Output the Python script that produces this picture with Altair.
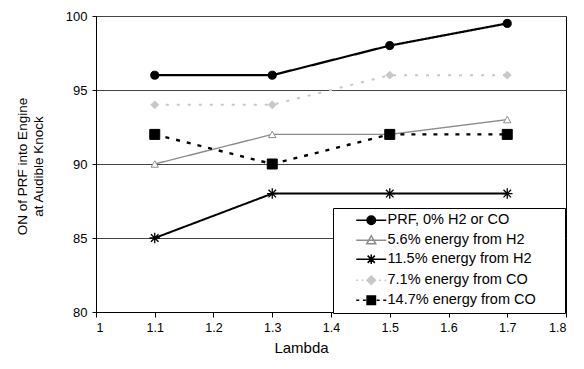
import altair as alt
import pandas as pd

# ---- data ----
lam = [1.1, 1.3, 1.5, 1.7]
series = [
    "PRF, 0% H2 or CO",
    "5.6% energy from H2",
    "11.5% energy from H2",
    "7.1% energy from CO",
    "14.7% energy from CO",
]
prf = [96, 96, 98, 99.5]
h2_56 = [90, 92, 92, 93]
h2_115 = [85, 88, 88, 88]
co_71 = [94, 94, 96, 96]
co_147 = [92, 90, 92, 92]
x_ticks = [1.0, 1.1, 1.2, 1.3, 1.4, 1.5, 1.6, 1.7, 1.8]
y_ticks = [80, 85, 90, 95, 100]

values = [prf, h2_56, h2_115, co_71, co_147]
rows = []
for name, vals in zip(series, values):
    for x, v in zip(lam, vals):
        rows.append({"series": name, "lambda": x, "on": v})
df = pd.DataFrame(rows)

FONT = "Liberation Sans"
ASTER = "M-1,0L1,0M0,-1L0,1M-0.72,-0.72L0.72,0.72M-0.72,0.72L0.72,-0.72"

styles = [
    dict(color="#000000", width=2.2, dash=[1, 0], shape="circle", fill="#000000", stroke="#000000", size=65, sw=1),
    dict(color="#8c8c8c", width=1.4, dash=[1, 0], shape="triangle-up", fill="white", stroke="#8c8c8c", size=55, sw=1),
    dict(color="#000000", width=2.0, dash=[1, 0], shape=ASTER, fill="transparent", stroke="#000000", size=110, sw=1.3),
    dict(color="#c8c8c8", width=2.0, dash=[3, 8], shape="diamond", fill="#c8c8c8", stroke="#c8c8c8", size=60, sw=1),
    dict(color="#000000", width=2.4, dash=[4, 7], shape="square", fill="#000000", stroke="#000000", size=100, sw=1),
]

legend_paths = [
    "M-2.5,0L2.5,0M-0.7,0A0.7,0.7,0,1,0,0.7,0A0.7,0.7,0,1,0,-0.7,0Z",
    "M-2.5,0L2.5,0M0,-0.75L0.75,0.6L-0.75,0.6Z",
    "M-2.5,0L2.5,0M-0.8,0L0.8,0M0,-0.8L0,0.8M-0.6,-0.6L0.6,0.6M-0.6,0.6L0.6,-0.6",
    "M-2.5,0L-2.2,0M-1.6,0L-1.3,0M1.3,0L1.6,0M2.2,0L2.5,0M0,-0.7L0.7,0L0,0.7L-0.7,0Z",
    "M-2.5,0L-2.0,0M-1.4,0L-0.9,0M0.9,0L1.4,0M2.0,0L2.5,0M-0.7,-0.7L0.7,-0.7L0.7,0.7L-0.7,0.7Z",
]

x_enc = alt.X(
    "lambda:Q",
    scale=alt.Scale(domain=[1.0, 1.8], nice=False, zero=False),
    axis=alt.Axis(
        values=x_ticks, format=".1~f", grid=False, title="Lambda",
        titleFontSize=15, titleFontWeight="normal", titleX=205, titleY=40,
        titleBaseline="alphabetic", titleAnchor="start", titleAlign="center",
        labelFontSize=12.5, labelPadding=4, tickSize=5,
    ),
)
y_enc = alt.Y(
    "on:Q",
    scale=alt.Scale(domain=[80, 100], nice=False, zero=False),
    axis=alt.Axis(
        values=y_ticks, grid=True, gridColor="#444444", gridWidth=1,
        title=["ON of PRF into Engine", "at Audible Knock"],
        titleFontSize=13.5, titleFontWeight="normal", titleX=-67, titleY=150,
        titleLineHeight=16, labelFontSize=13, labelPadding=5, tickSize=4,
    ),
)

layers = []
for name, st in zip(series, styles):
    sub = df[df["series"] == name]
    line = alt.Chart(sub).mark_line(
        color=st["color"], strokeWidth=st["width"], strokeDash=st["dash"]
    ).encode(x=x_enc, y=y_enc)
    pts = alt.Chart(sub).mark_point(
        shape=st["shape"], fill=st["fill"], stroke=st["stroke"], size=st["size"],
        strokeWidth=st["sw"], opacity=1, filled=False,
    ).encode(x=x_enc, y=y_enc)
    layers += [line, pts]

PAD = "\u00a0" * 6 + "\u200b"
leg = alt.Legend(
    title=None, orient="none", legendX=237, legendY=192,
    strokeColor="black", fillColor="white", padding=5, cornerRadius=0,
    symbolSize=144, symbolStrokeWidth=1.5, symbolOffset=26, labelOffset=9,
    symbolFillColor="black", symbolStrokeColor="black", symbolOpacity=1,
    labelFontSize=14.5, labelFont=FONT, labelColor="black", rowPadding=4,
    labelLimit=400, labelExpr="datum.label + '" + PAD + "'",
)
legend_layer = alt.Chart(df).mark_point(opacity=0, size=144, filled=False).encode(
    x=x_enc, y=y_enc,
    shape=alt.Shape("series:N", scale=alt.Scale(domain=series, range=legend_paths), legend=leg),
    fill=alt.Fill("series:N", scale=alt.Scale(domain=series, range=[s["fill"] for s in styles]), legend=leg),
    stroke=alt.Stroke("series:N", scale=alt.Scale(domain=series, range=[s["stroke"] for s in styles]), legend=leg),
)

chart = alt.layer(*layers, legend_layer).properties(
    width=470, height=296,
    autosize=alt.AutoSizeParams(type="none"),
    padding={"left": 88, "top": 8, "right": 10, "bottom": 45},
    background="white",
).configure_view(
    stroke="black", strokeWidth=1
).configure_axis(
    labelFont=FONT, titleFont=FONT, labelColor="black", titleColor="black",
    domainColor="black", tickColor="black",
)

chart.save("out.html", embed_options={"renderer": "svg", "actions": False})
